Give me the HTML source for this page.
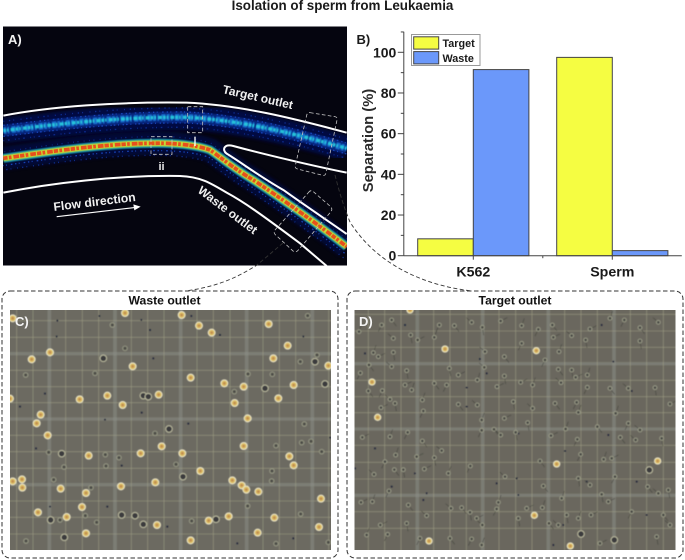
<!DOCTYPE html>
<html lang="en">
<head>
<meta charset="utf-8">
<title>Isolation of sperm from Leukaemia</title>
<style>
html,body{margin:0;padding:0;background:#fff;}
svg{display:block;font-family:"Liberation Sans",sans-serif;}
</style>
</head>
<body>
<svg id="figure" width="685" height="560" viewBox="0 0 685 560" xmlns="http://www.w3.org/2000/svg">
<defs>
<clipPath id="clipA"><rect x="3" y="26.5" width="344" height="239"/></clipPath>
<clipPath id="clipC"><rect x="10" y="310" width="321" height="240"/></clipPath>
<clipPath id="clipD"><rect x="354.5" y="310" width="321" height="240"/></clipPath>
<filter id="b1" x="-10%" y="-30%" width="120%" height="160%"><feGaussianBlur stdDeviation="1.5"/></filter>
<filter id="b2" x="-10%" y="-30%" width="120%" height="160%"><feGaussianBlur stdDeviation="2.5"/></filter>
<filter id="b3" x="-10%" y="-30%" width="120%" height="160%"><feGaussianBlur stdDeviation="5"/></filter>
<filter id="b0" x="-20%" y="-20%" width="140%" height="140%"><feGaussianBlur stdDeviation="0.45"/></filter>
<filter id="soft" x="-2%" y="-2%" width="104%" height="104%"><feGaussianBlur stdDeviation="0.55"/></filter>
<path id="streamT" d="M10,392 C150,375 350,350 560,352 C720,360 880,400 1040,445"/>
<path id="streamW" d="M10,475 C150,455 300,432 450,430 C520,428 590,435 630,450 C660,470 700,505 760,540 C850,600 950,670 1040,740"/>
</defs>

<text x="342.5" y="10" text-anchor="middle" font-size="13.4" font-weight="bold" fill="#1a1a1a">Isolation of sperm from Leukaemia</text>

<!-- Panel A -->
<g clip-path="url(#clipA)">
<rect x="3" y="26.5" width="344" height="239" fill="#05050f"/>
<g transform="scale(0.33333)" fill="none" stroke-linecap="butt">
  <g>
    <use href="#streamT" stroke="#061058" stroke-width="76" filter="url(#b3)" opacity=".7"/>
    <use href="#streamT" stroke="#0c3cb0" stroke-width="34" filter="url(#b2)" opacity=".55"/>
    <use href="#streamT" stroke="#1a78d8" stroke-width="20" stroke-dasharray="9 4 5 7 13 3" filter="url(#b1)" opacity=".85"/>
    <use href="#streamT" stroke="#26c8dc" stroke-width="10" stroke-dasharray="8 3 5 6 12 3" filter="url(#b1)" opacity=".95"/>
    <use href="#streamT" transform="translate(0,-16)" stroke="#1c50d0" stroke-width="4" stroke-dasharray="4 7 3 13 5 9" opacity=".75"/>
    <use href="#streamT" transform="translate(0,-28)" stroke="#1238a8" stroke-width="4" stroke-dasharray="3 14 4 9 3 19" opacity=".75"/>
    <use href="#streamT" transform="translate(0,17)" stroke="#1c50d0" stroke-width="4" stroke-dasharray="5 8 3 11 4 6" opacity=".75"/>
    <use href="#streamT" transform="translate(0,30)" stroke="#1238a8" stroke-width="4" stroke-dasharray="3 11 5 16 3 8" opacity=".7"/>
  </g>
  <g>
    <use href="#streamW" stroke="#061058" stroke-width="70" filter="url(#b3)" opacity=".55"/>
    <use href="#streamW" transform="translate(-3,22)" stroke="#1c50d0" stroke-width="4" stroke-dasharray="4 7 3 12 5 8" opacity=".8"/>
    <use href="#streamW" transform="translate(-6,36)" stroke="#1238a8" stroke-width="4" stroke-dasharray="3 12 4 9 3 17" opacity=".75"/>
    <use href="#streamW" transform="translate(3,-20)" stroke="#1238a8" stroke-width="4" stroke-dasharray="3 13 3 10 4 15" opacity=".6"/>
    <use href="#streamW" stroke="#14a8c0" stroke-width="27" filter="url(#b1)" opacity=".85"/>
    <use href="#streamW" stroke="#c8d830" stroke-width="18" filter="url(#b1)"/>
    <use href="#streamW" stroke="#e8501c" stroke-width="11" stroke-dasharray="13 4 8 6 17 3" filter="url(#b0)"/>
  </g>
  <g stroke="#fff" stroke-width="6" filter="url(#b0)">
    <path d="M10,347 C150,320 350,305 560,308 C720,315 880,355 1040,398"/>
    <path d="M1040,518 C950,500 800,465 700,438 C672,430 665,450 680,461 C720,485 780,530 850,570 C920,620 980,660 1040,702"/>
    <path d="M10,578 C150,550 350,525 540,528 C600,530 630,548 680,578 C730,605 780,640 900,730 L980,798"/>
  </g>
  <g stroke="#c4c4c4" stroke-width="2.4" stroke-dasharray="11 7">
    <rect x="563" y="320" width="45" height="78"/>
    <rect x="453" y="410" width="63" height="53"/>
    <path d="M930,338 L1005,350 Q1013,352 1011,360 L978,518 Q976,528 968,526 L893,507 Q884,505 886,497 L920,346 Q922,337 930,338Z"/>
    <path d="M925,578 Q932,568 940,575 L992,620 Q999,628 992,636 L895,750 Q887,760 878,752 L826,704 Q819,697 826,689Z"/>
  </g>
  <path d="M170,650 L410,622" stroke="#fff" stroke-width="3.5"/>
  <path d="M422,620 L400,613 L403,631Z" fill="#fff"/>
  <path d="M585,410 L585,438" stroke="#fff" stroke-width="4"/>
</g>
<text x="8" y="44" font-size="13" font-weight="bold" fill="#f2f2f2">A)</text>
<text transform="translate(222,93) rotate(13)" font-size="12" font-weight="bold" fill="#f0f0f0">Target outlet</text>
<text transform="translate(197,192) rotate(37)" font-size="12" font-weight="bold" fill="#f0f0f0">Waste outlet</text>
<text transform="translate(54,211) rotate(-7)" font-size="12.2" font-weight="bold" fill="#f0f0f0">Flow direction</text>
<text x="161.5" y="170" text-anchor="middle" font-size="11" font-weight="bold" fill="#e8e8e8">ii</text>
</g>

<!-- connectors -->
<path d="M335,175 C340,195 345,210 350,222 C375,262 420,285 472,291" fill="none" stroke="#333" stroke-width="0.9" stroke-dasharray="4 2.5"/>
<path d="M283,243 L257,265 C235,279 215,287 185,291" fill="none" stroke="#333" stroke-width="0.9" stroke-dasharray="4 2.5"/>

<!-- Panel B chart -->
<g id="chart"></g>

<!-- Panel C -->
<rect x="2" y="291" width="336" height="267" rx="8" fill="none" stroke="#333" stroke-width="1" stroke-dasharray="4.5 2.5"/>
<text x="164.5" y="304.5" text-anchor="middle" font-size="12.2" font-weight="bold" fill="#111">Waste outlet</text>
<g clip-path="url(#clipC)">
<rect x="10" y="310" width="321" height="240" fill="#6c6a61"/>
<g filter="url(#soft)">
<g id="gridC"></g>
<g id="cellsC"></g>
</g>
<text x="15" y="326" font-size="13" font-weight="bold" fill="#f4f4f4">C)</text>
</g>

<!-- Panel D -->
<rect x="347" y="291" width="336" height="267" rx="8" fill="none" stroke="#333" stroke-width="1" stroke-dasharray="4.5 2.5"/>
<text x="515" y="304.5" text-anchor="middle" font-size="12.2" font-weight="bold" fill="#111">Target outlet</text>
<g clip-path="url(#clipD)">
<rect x="354.5" y="310" width="321" height="240" fill="#6a675e"/>
<g filter="url(#soft)">
<g id="gridD"></g>
<g id="cellsD"></g>
</g>
<text x="359" y="326" font-size="13" font-weight="bold" fill="#f4f4f4">D)</text>
</g>
</svg>

<script>
// ---- Chart data ----
var categories = ["K562", "Sperm"];
var targetValues = [8.3, 97.5];
var wasteValues = [91.5, 2.5];
var yTickLabels = [0, 20, 40, 60, 80, 100];
var yMinorTicks = [10, 30, 50, 70, 90, 110];
var seriesNames = ["Target", "Waste"];

// ---- Micrograph feature lists (zoom coordinates) ----
var wasteBright = [[38,40],[375,24],[545,30],[597,62],[635,83],[806,57],[863,122],[820,160],[985,182],[150,142],[95,163],[398,184],[572,218],[673,235],[731,245],[881,240],[835,280],[704,294],[322,272],[239,283],[368,300],[476,269],[30,281],[122,329],[110,355],[743,340],[143,391],[266,452],[422,445],[485,424],[547,445],[731,423],[868,454],[881,481],[601,498],[38,529],[67,548],[66,523],[182,551],[363,544],[466,532],[697,526],[725,541],[739,554],[775,560],[963,581],[258,564],[246,606],[114,622],[200,636],[686,634],[626,647],[823,638],[471,660],[258,685],[773,683],[957,666],[572,706]];
var wasteDark = [[310,160],[430,272],[445,275],[507,372],[795,250],[152,645],[193,697],[185,446],[365,630],[648,643],[945,170],[975,237],[549,515],[405,632],[430,658]];
var wasteSmall = [[337,60],[923,32],[375,130],[285,205],[77,210],[744,207],[817,208],[901,170],[951,150],[703,260],[913,357],[933,409],[828,422],[905,413],[965,440],[816,498],[815,528],[743,603],[902,627],[985,712],[828,716],[575,648],[290,652],[180,645],[256,632],[273,548],[161,524],[192,486],[146,442],[316,449],[357,458],[318,483],[528,478],[465,385],[78,708]];
var wasteSpecks = [[172,47],[298,33],[450,75],[135,266],[170,95],[424,45],[460,160],[910,95],[660,90],[574,33],[315,344],[565,356],[108,430],[365,482],[322,605],[502,665],[880,700],[712,715],[425,323],[990,398],[150,605],[60,305]];
var targetBright = [[574,137],[938,468],[635,477],[568,631],[676,723],[98,337],[195,15],[81,231],[300,132],[252,708]];
var targetDark = [[913,495],[708,687],[808,705]];
var targetRings = [[42,80],[110,60],[140,45],[145,100],[197,90],[218,105],[268,97],[283,60],[328,62],[380,52],[412,67],[467,48],[530,62],[580,73],[622,60],[680,92],[722,105],[735,72],[795,40],[838,45],[885,68],[940,52],[885,108],[625,97],[642,140],[530,115],[478,155],[420,140],[145,142],[100,155],[85,143],[46,204],[72,180],[140,185],[185,197],[180,240],[200,255],[112,257],[70,258],[135,283],[150,295],[108,308],[232,285],[235,318],[340,298],[397,300],[313,190],[340,210],[397,225],[305,240],[268,235],[418,187],[478,213],[527,232],[563,240],[600,165],[640,193],[648,233],[680,195],[692,217],[727,210],[727,247],[795,250],[850,250],[930,248],[975,297],[700,322],[695,292],[630,295],[563,310],[505,290],[456,245],[812,325],[850,355],[757,365],[885,375],[548,353],[478,340],[410,345],[410,376],[447,373],[467,390],[512,382],[618,392],[662,372],[697,403],[826,397],[872,405],[950,400],[52,397],[135,395],[188,382],[232,408],[290,437],[268,458],[215,455],[152,450],[120,470],[148,494],[87,508],[175,494],[238,492],[310,505],[376,483],[585,468],[480,515],[700,520],[800,460],[776,463],[707,448],[595,543],[735,540],[770,568],[790,590],[650,580],[810,515],[908,545],[940,565],[970,555],[48,592],[82,590],[132,558],[190,600],[245,632],[185,655],[106,660],[65,690],[128,688],[350,608],[318,610],[375,622],[395,640],[460,592],[455,612],[612,655],[640,660],[665,630],[738,630],[700,640],[860,620],[955,630],[975,660],[935,695],[765,715],[410,720],[380,702],[315,700],[412,660],[520,640],[545,610],[592,608],[225,700]];
var targetSpecks = [[60,145],[145,140],[425,205],[365,248],[520,385],[660,438],[770,60],[90,430],[210,505],[515,520],[625,720],[860,258],[30,490],[725,530],[805,170],[365,305],[235,585],[180,60],[455,535],[905,630],[530,62],[148,142],[405,162],[600,170],[515,520],[140,545],[190,655],[245,565],[520,570],[655,660],[790,390],[875,530]];
var tailOffsets = [[8,-22],[-10,20],[14,18],[-16,-14],[4,24],[20,-10]];
var wasteThinX = [50,99,197,247,296,394,443,492,591,640,690,789,838,887,986];
var wasteThickX = [148,345,542,740,937];
var wasteThinY = [47,97,196,245,293,391,440,490,588,637,687];
var wasteThickY = [146,342,539];
var targetThinX = [70,119,168,266,315,364,462,512,561,659,708,757,856,905,955];
var targetThickX = [217,413,610,807];
var targetThinY = [28,78,127,226,275,323,421,472,522,620,670];
var targetThickY = [176,372,571];

var NS = "http://www.w3.org/2000/svg";
function mk(tag, attrs, parent, text) {
  var el = document.createElementNS(NS, tag);
  for (var k in attrs) el.setAttribute(k, attrs[k]);
  if (text !== undefined) el.textContent = text;
  parent.appendChild(el);
  return el;
}

// ---- Axis functions ----
var plotLeft = 403.8, plotRight = 681.8, y0px = 255.7, y100px = 52.3, yTop = 31.7;
function yScale(v) { return y0px + (y100px - y0px) * v / 100; }
function bandCenter(i) { return plotLeft + (plotRight - plotLeft) * (i + 0.5) / categories.length; }
var barWidth = 55.6;

var chart = document.getElementById("chart");
var targetColor = "#f5fd42", wasteColor = "#6b98fa", barStroke = "#444";

function drawBar(i, v, left, color, name) {
  var r = mk("rect", {x:left, y:yScale(v), width:barWidth, height:y0px - yScale(v), fill:color, stroke:barStroke, "stroke-width":1}, chart);
  
  
}
categories.forEach(function (c, i) {
  var cx = bandCenter(i);
  drawBar(i, targetValues[i], cx - barWidth, targetColor, 'bar-target-' + c.toLowerCase());
  drawBar(i, wasteValues[i], cx, wasteColor, 'bar-waste-' + c.toLowerCase());
  var t = mk("line", {x1:cx, x2:cx, y1:y0px, y2:y0px + 4, stroke:"#444", "stroke-width":1}, chart);
  
  
  var l = mk("text", {x:cx, y:276.5, "text-anchor":"middle", "font-size":14.2, "font-weight":"bold", fill:"#1a1a1a"}, chart, c);
  
  
});
var midTick = mk("line", {x1:(bandCenter(0)+bandCenter(1))/2, x2:(bandCenter(0)+bandCenter(1))/2, y1:y0px, y2:y0px + 2.5, stroke:"#444", "stroke-width":1}, chart);



var yAxis = mk("line", {x1:plotLeft, x2:plotLeft, y1:yTop, y2:y0px, stroke:"#444", "stroke-width":1}, chart);


var xAxis = mk("line", {x1:plotLeft, x2:plotRight, y1:y0px, y2:y0px, stroke:"#444", "stroke-width":1}, chart);



yTickLabels.forEach(function (v) {
  var t = mk("line", {x1:plotLeft - 6, x2:plotLeft, y1:yScale(v), y2:yScale(v), stroke:"#444", "stroke-width":1}, chart);
  
  
  var l = mk("text", {x:plotLeft - 7.5, y:yScale(v) + 5, "text-anchor":"end", "font-size":14, "font-weight":"bold", fill:"#1a1a1a"}, chart, String(v));
  
  
});
yMinorTicks.forEach(function (v) {
  var t = mk("line", {x1:plotLeft - 3, x2:plotLeft, y1:yScale(v), y2:yScale(v), stroke:"#444", "stroke-width":1}, chart);
  
  
});

var yTitle = mk("text", {transform:"translate(373,140.5) rotate(-90)", "text-anchor":"middle", "font-size":14.8, "font-weight":"bold", fill:"#2a2a2a"}, chart, "Separation (%)");


var bLabel = mk("text", {x:356.5, y:44, "font-size":13, "font-weight":"bold", fill:"#1a1a1a"}, chart, "B)");



var legendBox = mk("rect", {x:411.5, y:34.5, width:68.5, height:31, fill:"#fff", stroke:"#999", "stroke-width":1}, chart);


seriesNames.forEach(function (n, i) {
  var top = 36.8 + i * 14.8;
  var s = mk("rect", {x:413.7, y:top, width:25, height:12.3, fill:i ? wasteColor : targetColor, stroke:barStroke, "stroke-width":1}, chart);
  
  
  var l = mk("text", {x:442.5, y:top + 10.2, "font-size":10.8, "font-weight":"bold", fill:"#1a1a1a"}, chart, n);
  
  
});

// ---- Micrographs ----
function drawGrid(id, offX, thinX, thickX, thinY, thickY) {
  var g = mk("g", {transform:"translate(" + offX + ",305) scale(0.33333)"}, document.getElementById(id));
  
  
  thickX.forEach(function (x) {
    var a = mk("line", {x1:x, x2:x, y1:0, y2:760, stroke:"#8e9189", "stroke-width":11, opacity:.5}, g);
    
    
  });
  thickY.forEach(function (y) {
    var a = mk("line", {x1:0, x2:1020, y1:y, y2:y, stroke:"#8e9189", "stroke-width":10, opacity:.5}, g);
    
    
  });
  thinX.forEach(function (x) {
    var a = mk("line", {x1:x, x2:x, y1:0, y2:760, stroke:"#a3a388", "stroke-width":2.6, opacity:.6}, g);
    
    
  });
  thinY.forEach(function (y) {
    var a = mk("line", {x1:0, x2:1020, y1:y, y2:y, stroke:"#a3a388", "stroke-width":2.6, opacity:.6}, g);
    
    
  });
}
function drawCells(id, offX, bright, dark, small, specks, brightR, withTails) {
  var g = mk("g", {transform:"translate(" + offX + ",305) scale(0.33333)"}, document.getElementById(id));
  
  
  specks.forEach(function (p) {
    var c = mk("circle", {cx:p[0], cy:p[1], r:3, fill:"#23283a"}, g);
    
    
  });
  small.forEach(function (p, i) {
    if (withTails) {
      var o = tailOffsets[i % tailOffsets.length];
      var tl = mk("line", {x1:p[0], y1:p[1], x2:p[0] + o[0], y2:p[1] + o[1], stroke:"#45463f", "stroke-width":1.8}, g);
      
      
    }
    var c = mk("circle", {cx:p[0], cy:p[1], r:withTails ? 6 : 7, fill:"#5f5e53", stroke:"#9c9e8a", "stroke-width":2.6}, g);
    
    
    var d = mk("circle", {cx:p[0], cy:p[1], r:2.2, fill:"#33363c"}, g);
    
    
  });
  dark.forEach(function (p) {
    var c = mk("circle", {cx:p[0], cy:p[1], r:10, fill:"#3a3b3c", stroke:"#bdbca0", "stroke-width":3}, g);
    
    
  });
  bright.forEach(function (p) {
    var c = mk("circle", {cx:p[0], cy:p[1], r:brightR, fill:"#dcc066", stroke:"#ece6c8", "stroke-width":3}, g);
    
    
    var d = mk("circle", {cx:p[0], cy:p[1], r:brightR * 0.4, fill:"#c28c50"}, g);
    
    
  });
}
drawGrid("gridC", 0, wasteThinX, wasteThickX, wasteThinY, wasteThickY);
drawCells("cellsC", 0, wasteBright, wasteDark, wasteSmall, wasteSpecks, 10.5, false);
drawGrid("gridD", 345, targetThinX, targetThickX, targetThinY, targetThickY);
drawCells("cellsD", 345, targetBright, targetDark, targetRings, targetSpecks, 9.5, true);
</script>
</body>
</html>
